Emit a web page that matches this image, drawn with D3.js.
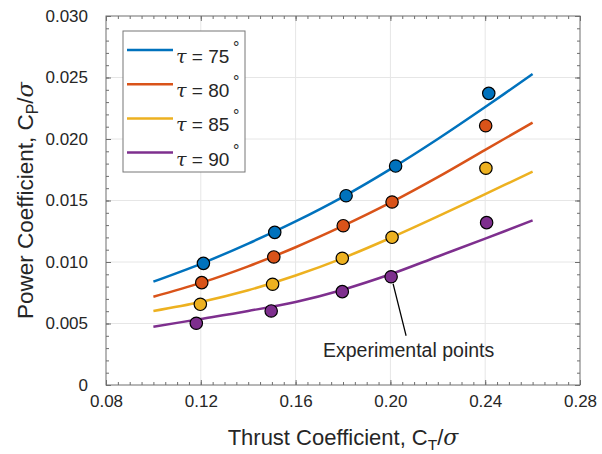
<!DOCTYPE html>
<html>
<head>
<meta charset="utf-8">
<script src="https://cdn.jsdelivr.net/npm/d3@7"></script>
<style>
  body { margin: 0; background: #fff; }
  text { font-family: "Liberation Sans", Arial, sans-serif; fill: #262626; }
  .greek { font-family: "DejaVu Serif", serif; font-style: italic; }
</style>
</head>
<body>
<div id="chart"></div>
<script>
// sweep angles and colours
const taus = [75, 80, 85, 90];
const colors = ["#0072BD", "#D95319", "#EDB120", "#7E2F8E"];

// model curves
const curveX = [0.10, 0.12, 0.14, 0.16, 0.18, 0.20, 0.22, 0.24, 0.26];
const curve75 = [0.00840, 0.00985, 0.01150, 0.01330, 0.01530, 0.01755, 0.02000, 0.02260, 0.02528];
const curve80 = [0.00718, 0.00830, 0.00965, 0.01120, 0.01293, 0.01482, 0.01690, 0.01912, 0.02133];
const curve85 = [0.00602, 0.00675, 0.00770, 0.00890, 0.01032, 0.01195, 0.01370, 0.01552, 0.01735];
const curve90 = [0.00474, 0.00537, 0.00602, 0.00675, 0.00775, 0.00900, 0.01045, 0.01190, 0.01338];

// experimental points
const exp75x = [0.1211, 0.1512, 0.1813, 0.2022, 0.2415];
const exp75y = [0.00989, 0.01241, 0.01539, 0.01780, 0.02371];
const exp80x = [0.1204, 0.1508, 0.1801, 0.2007, 0.2402];
const exp80y = [0.00832, 0.01041, 0.01295, 0.01488, 0.02108];
const exp85x = [0.1198, 0.1503, 0.1797, 0.2007, 0.2403];
const exp85y = [0.00656, 0.00819, 0.01030, 0.01201, 0.01762];
const exp90x = [0.1181, 0.1497, 0.1797, 0.2003, 0.2406];
const exp90y = [0.00502, 0.00602, 0.00759, 0.00880, 0.01320];

const xTicks = [0.08, 0.12, 0.16, 0.20, 0.24, 0.28];
const yTicks = [0, 0.005, 0.010, 0.015, 0.020, 0.025, 0.030];

const curves = [curve75, curve80, curve85, curve90];
const expX = [exp75x, exp80x, exp85x, exp90x];
const expY = [exp75y, exp80y, exp85y, exp90y];

const margin = { top: 16, right: 22, bottom: 69, left: 106 };
const W = 602, H = 454;
const width = W - margin.left - margin.right;
const height = H - margin.top - margin.bottom;

const svg = d3.select("#chart").append("svg")
    .attr("width", W)
    .attr("height", H);

const g = svg.append("g")
    .attr("transform", `translate(${margin.left}, ${margin.top})`);

const x = d3.scaleLinear().domain([0.08, 0.28]).range([0, width]);
const y = d3.scaleLinear().domain([0, 0.030]).range([height, 0]);

// grid
g.append("g").selectAll("line")
    .data(xTicks.slice(1, -1))
    .join("line")
    .attr("x1", d => x(d)).attr("x2", d => x(d))
    .attr("y1", 0).attr("y2", height)
    .attr("stroke", "#e6e6e6");
g.append("g").selectAll("line")
    .data(yTicks.slice(1, -1))
    .join("line")
    .attr("y1", d => y(d)).attr("y2", d => y(d))
    .attr("x1", 0).attr("x2", width)
    .attr("stroke", "#e6e6e6");

// ticks on all four sides, pointing inward
const xMinor = d3.range(0, 41).map(i => 0.08 + i * 0.005);
const yMinor = d3.range(0, 31).map(i => i * 0.001);
const axisColor = "#6e6e6e";

function styleAxis(sel) {
    sel.select(".domain").remove();
    sel.selectAll("line").attr("stroke", axisColor);
}

g.append("g").attr("transform", `translate(0, ${height})`)
    .call(d3.axisBottom(x).tickValues(xMinor).tickSize(-3).tickFormat(""))
    .call(styleAxis);
g.append("g")
    .call(d3.axisTop(x).tickValues(xMinor).tickSize(-3).tickFormat(""))
    .call(styleAxis);
g.append("g")
    .call(d3.axisLeft(y).tickValues(yMinor).tickSize(-3).tickFormat(""))
    .call(styleAxis);
g.append("g").attr("transform", `translate(${width}, 0)`)
    .call(d3.axisRight(y).tickValues(yMinor).tickSize(-3).tickFormat(""))
    .call(styleAxis);

const xAxis = g.append("g").attr("transform", `translate(0, ${height})`)
    .call(d3.axisBottom(x).tickValues(xTicks).tickSize(-5).tickPadding(10)
        .tickFormat(d3.format(".2f")));
xAxis.call(styleAxis);
xAxis.selectAll("text").attr("font-size", 17).attr("font-family", null).attr("fill", "#262626");
g.append("g")
    .call(d3.axisTop(x).tickValues(xTicks).tickSize(-5).tickFormat(""))
    .call(styleAxis);

const yAxis = g.append("g")
    .call(d3.axisLeft(y).tickValues(yTicks).tickSize(-5).tickPadding(18)
        .tickFormat(d => d === 0 ? "0" : d3.format(".3f")(d)));
yAxis.call(styleAxis);
yAxis.selectAll("text").attr("font-size", 17).attr("font-family", null).attr("fill", "#262626");
g.append("g").attr("transform", `translate(${width}, 0)`)
    .call(d3.axisRight(y).tickValues(yTicks).tickSize(-5).tickFormat(""))
    .call(styleAxis);

// box
g.append("rect")
    .attr("width", width).attr("height", height)
    .attr("fill", "none").attr("stroke", axisColor);

// model lines
const line = d3.line()
    .x(d => x(d[0]))
    .y(d => y(d[1]))
    .curve(d3.curveCatmullRom);

curves.forEach((c, i) => {
    g.append("path")
        .datum(curveX.map((v, j) => [v, c[j]]))
        .attr("d", line)
        .attr("fill", "none")
        .attr("stroke", colors[i])
        .attr("stroke-width", 2.5);
});

// experimental markers
expX.forEach((xs, i) => {
    g.append("g").selectAll("circle")
        .data(xs.map((v, j) => [v, expY[i][j]]))
        .join("circle")
        .attr("cx", d => x(d[0]))
        .attr("cy", d => y(d[1]))
        .attr("r", 6.2)
        .attr("fill", colors[i])
        .attr("stroke", "#000")
        .attr("stroke-width", 1.2);
});

// annotation
const tip = [exp90x[3], exp90y[3]];
g.append("line")
    .attr("x1", x(tip[0]) + 2).attr("y1", y(tip[1]) + 7)
    .attr("x2", x(tip[0]) + 15).attr("y2", y(tip[1]) + 59)
    .attr("stroke", "#000").attr("stroke-width", 1.2);
g.append("text")
    .attr("x", 217).attr("y", 341)
    .attr("font-size", 19.5)
    .text("Experimental points");

// legend
const legend = svg.append("g").attr("transform", "translate(123, 31)");
legend.append("rect")
    .attr("width", 122).attr("height", 141)
    .attr("fill", "#fff").attr("stroke", "#777");
taus.forEach((t, i) => {
    const row = legend.append("g").attr("transform", `translate(0, ${19 + i * 34.2})`);
    row.append("line")
        .attr("x1", 4).attr("x2", 50)
        .attr("stroke", colors[i]).attr("stroke-width", 2.5);
    const txt = row.append("text").attr("x", 53).attr("y", 13).attr("font-size", 19);
    txt.append("tspan").attr("class", "greek").text("τ");
    txt.append("tspan").text(` = ${t}`);
    row.append("text")
        .attr("x", 110).attr("y", 3)
        .attr("font-size", 16)
        .text("°");
});

// axis labels
const xl = svg.append("text")
    .attr("x", margin.left + width / 2).attr("y", 445)
    .attr("text-anchor", "middle")
    .attr("font-size", 22);
xl.append("tspan").text("Thrust Coefficient, C");
xl.append("tspan").attr("font-size", 15.5).attr("dy", 5).text("T");
xl.append("tspan").attr("dy", -5).text("/");
xl.append("tspan").attr("class", "greek").text("σ");

const yl = svg.append("text")
    .attr("transform", `translate(33, ${margin.top + height / 2}) rotate(-90)`)
    .attr("text-anchor", "middle")
    .attr("font-size", 22.5);
yl.append("tspan").text("Power Coefficient, C");
yl.append("tspan").attr("font-size", 16).attr("dy", 5).text("P");
yl.append("tspan").attr("dy", -5).text("/");
yl.append("tspan").attr("class", "greek").text("σ");
</script>
</body>
</html>
